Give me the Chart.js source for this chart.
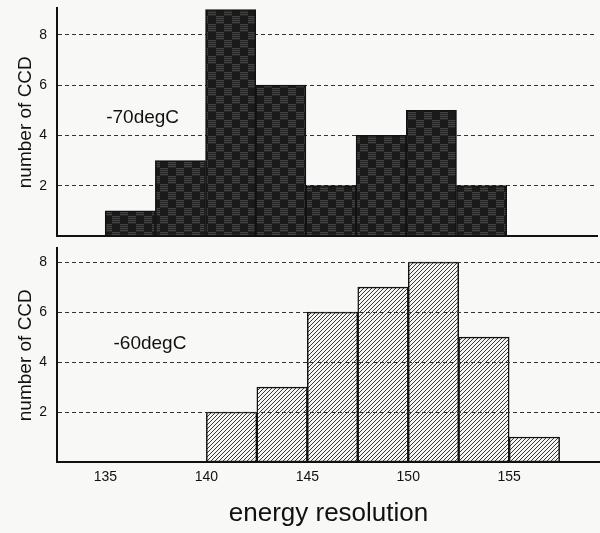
<!DOCTYPE html>
<html>
<head>
<meta charset="UTF-8">
<title>Energy resolution of CCDs</title>
<script src="https://cdn.jsdelivr.net/npm/chart.js"></script>
<style>
  body { margin: 0; background: #f8f8f6; }
  .wrap { position: relative; width: 600px; height: 533px; }
  canvas { position: absolute; left: 0; }
  #top { top: 0; }
  #bottom { top: 240px; }
</style>
</head>
<body>
<div class="wrap">
  <canvas id="top" width="600" height="245"></canvas>
  <canvas id="bottom" width="600" height="293"></canvas>
</div>
<script>
// histogram bins (left edge) and counts
const binWidth = 2.5;
const bins70 = [135, 137.5, 140, 142.5, 145, 147.5, 150, 152.5];
const counts70 = [1, 3, 9, 6, 2, 4, 5, 2];
const bins60 = [140, 142.5, 145, 147.5, 150, 152.5, 155];
const counts60 = [2, 3, 6, 7, 8, 5, 1];
const xTickValues = [135, 140, 145, 150, 155];
const yTickValues = [2, 4, 6, 8];

const FONT = '"Liberation Sans", Arial, Helvetica, sans-serif';

// dark checker texture for the -70 panel
function checkerPattern() {
  const n = 8;
  const c = document.createElement('canvas');
  c.width = n * 2; c.height = n * 2;
  const g = c.getContext('2d');
  g.fillStyle = '#1a1a1a';
  g.fillRect(0, 0, n * 2, n * 2);
  for (const [ox, oy] of [[n, 0], [0, n]]) {
    for (let r = 0; r < n; r++) {
      g.fillStyle = r % 2 ? '#262626' : '#434343';
      g.fillRect(ox, oy + r, n, 1);
    }
  }
  return g.createPattern(c, 'repeat');
}

// diagonal hatch for the -60 panel
function hatchPattern() {
  const s = 4;
  const c = document.createElement('canvas');
  c.width = s; c.height = s;
  const g = c.getContext('2d');
  g.fillStyle = '#f6f6f4';
  g.fillRect(0, 0, s, s);
  g.strokeStyle = '#222';
  g.lineWidth = 0.9;
  g.beginPath();
  g.moveTo(0, s); g.lineTo(s, 0);
  g.moveTo(-1, 1); g.lineTo(1, -1);
  g.moveTo(s - 1, s + 1); g.lineTo(s + 1, s - 1);
  g.stroke();
  return g.createPattern(c, 'repeat');
}

const tempLabel = {
  id: 'tempLabel',
  afterDatasetsDraw(chart, args, opts) {
    const { ctx, scales: { x, y } } = chart;
    ctx.save();
    ctx.font = '19px ' + FONT;
    ctx.fillStyle = '#111';
    ctx.textBaseline = 'middle';
    ctx.fillText(opts.text, x.getPixelForValue(opts.x), y.getPixelForValue(opts.y));
    ctx.restore();
  }
};

function makeChart(id, bins, counts, fill, opts) {
  const data = bins.map((b, i) => ({ x: b + binWidth / 2, y: counts[i] }));
  return new Chart(document.getElementById(id), {
    type: 'bar',
    data: {
      datasets: [{
        data: data,
        backgroundColor: fill,
        borderColor: '#111',
        borderWidth: 1.5,
        borderSkipped: false,
        barPercentage: 1,
        categoryPercentage: 1
      }]
    },
    plugins: [tempLabel],
    options: {
      responsive: false,
      animation: false,
      layout: { padding: opts.padding },
      plugins: {
        legend: { display: false },
        tooltip: { enabled: false },
        tempLabel: opts.label
      },
      scales: {
        x: {
          type: 'linear',
          offset: false,
          min: 132.6,
          max: 159.5,
          afterBuildTicks: s => { s.ticks = xTickValues.map(v => ({ value: v })); },
          afterFit: s => { s.height = opts.xHeight; },
          grid: { display: false, drawTicks: false, offset: false },
          border: { display: true, color: '#111', width: 2 },
          ticks: {
            display: opts.showX,
            padding: 7,
            color: '#111',
            font: { family: FONT, size: 14 }
          },
          title: {
            display: opts.showX,
            text: 'energy resolution',
            color: '#111',
            font: { family: FONT, size: 26 },
            padding: { top: 0, bottom: 4 }
          }
        },
        y: {
          min: 0,
          max: opts.yMax,
          afterBuildTicks: s => { s.ticks = yTickValues.map(v => ({ value: v })); },
          afterFit: s => { s.width = 57; },
          grid: { color: '#333', lineWidth: 1, z: opts.gridZ, drawTicks: true, tickLength: 10, tickColor: 'rgba(0,0,0,0)' },
          border: { display: true, color: '#111', width: 2, dash: [4, 3], z: opts.gridZ },
          ticks: {
            padding: 0,
            color: '#111',
            font: { family: FONT, size: 14 }
          },
          title: {
            display: true,
            text: 'number of CCD',
            color: '#111',
            font: { family: FONT, size: 19 },
            padding: { top: 14, bottom: 0 }
          }
        }
      }
    }
  });
}

makeChart('top', bins70, counts70, checkerPattern(), {
  padding: { top: 0, right: 3, bottom: 9, left: 0 },
  xHeight: 0,
  showX: false,
  yMax: 9.05,
  gridZ: 0,
  label: { text: '-70degC', x: 135.05, y: 4.7 }
});

makeChart('bottom', bins60, counts60, hatchPattern(), {
  padding: { top: 0, right: 0, bottom: 0, left: 0 },
  xHeight: 71,
  showX: true,
  yMax: 8.55,
  gridZ: 1,
  label: { text: '-60degC', x: 135.4, y: 4.75 }
});
</script>
</body>
</html>
